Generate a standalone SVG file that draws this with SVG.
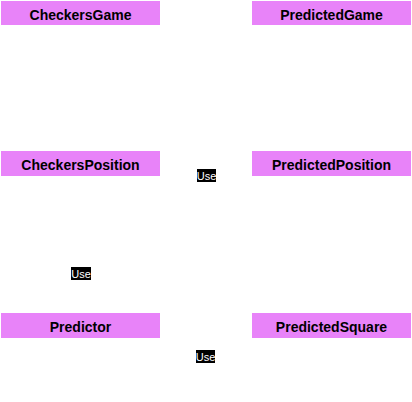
<svg xmlns="http://www.w3.org/2000/svg" width="412" height="402" viewBox="0 0 412 402">
<style>
.box{fill:#E883F9;}
.t{font-family:"Liberation Sans",Arial,sans-serif;font-size:14px;font-weight:bold;fill:#000;text-anchor:middle;dominant-baseline:central;}
.lb{fill:#000;}
.lt{font-family:"Liberation Sans",Arial,sans-serif;font-size:11px;fill:#fff;text-anchor:middle;dominant-baseline:central;}
</style>
<rect width="412" height="402" fill="#fff"/>
<g id="CheckersGame"><rect class="box" x="1" y="1" width="159" height="24"/><text class="t" x="80.5" y="14.5">CheckersGame</text></g>
<g id="PredictedGame"><rect class="box" x="252" y="1" width="159" height="24"/><text class="t" x="331.5" y="14.5">PredictedGame</text></g>
<g id="CheckersPosition"><rect class="box" x="1" y="151" width="159" height="25"/><text class="t" x="80.5" y="164.5">CheckersPosition</text></g>
<g id="PredictedPosition"><rect class="box" x="252" y="151" width="159" height="25"/><text class="t" x="331.5" y="164.5">PredictedPosition</text></g>
<g id="Predictor"><rect class="box" x="1" y="313" width="159" height="25"/><text class="t" x="80.5" y="326.5">Predictor</text></g>
<g id="PredictedSquare"><rect class="box" x="252" y="313" width="159" height="25"/><text class="t" x="331.5" y="326.5">PredictedSquare</text></g>
<g id="connectors">
<rect class="lb" x="197" y="169" width="19" height="13"/><text class="lt" x="206.5" y="175.5">Use</text>
<rect class="lb" x="71" y="267" width="20" height="13"/><text class="lt" x="81" y="273.5">Use</text>
<rect class="lb" x="196" y="350" width="19" height="13"/><text class="lt" x="205.5" y="356.5">Use</text>
</g>
</svg>
